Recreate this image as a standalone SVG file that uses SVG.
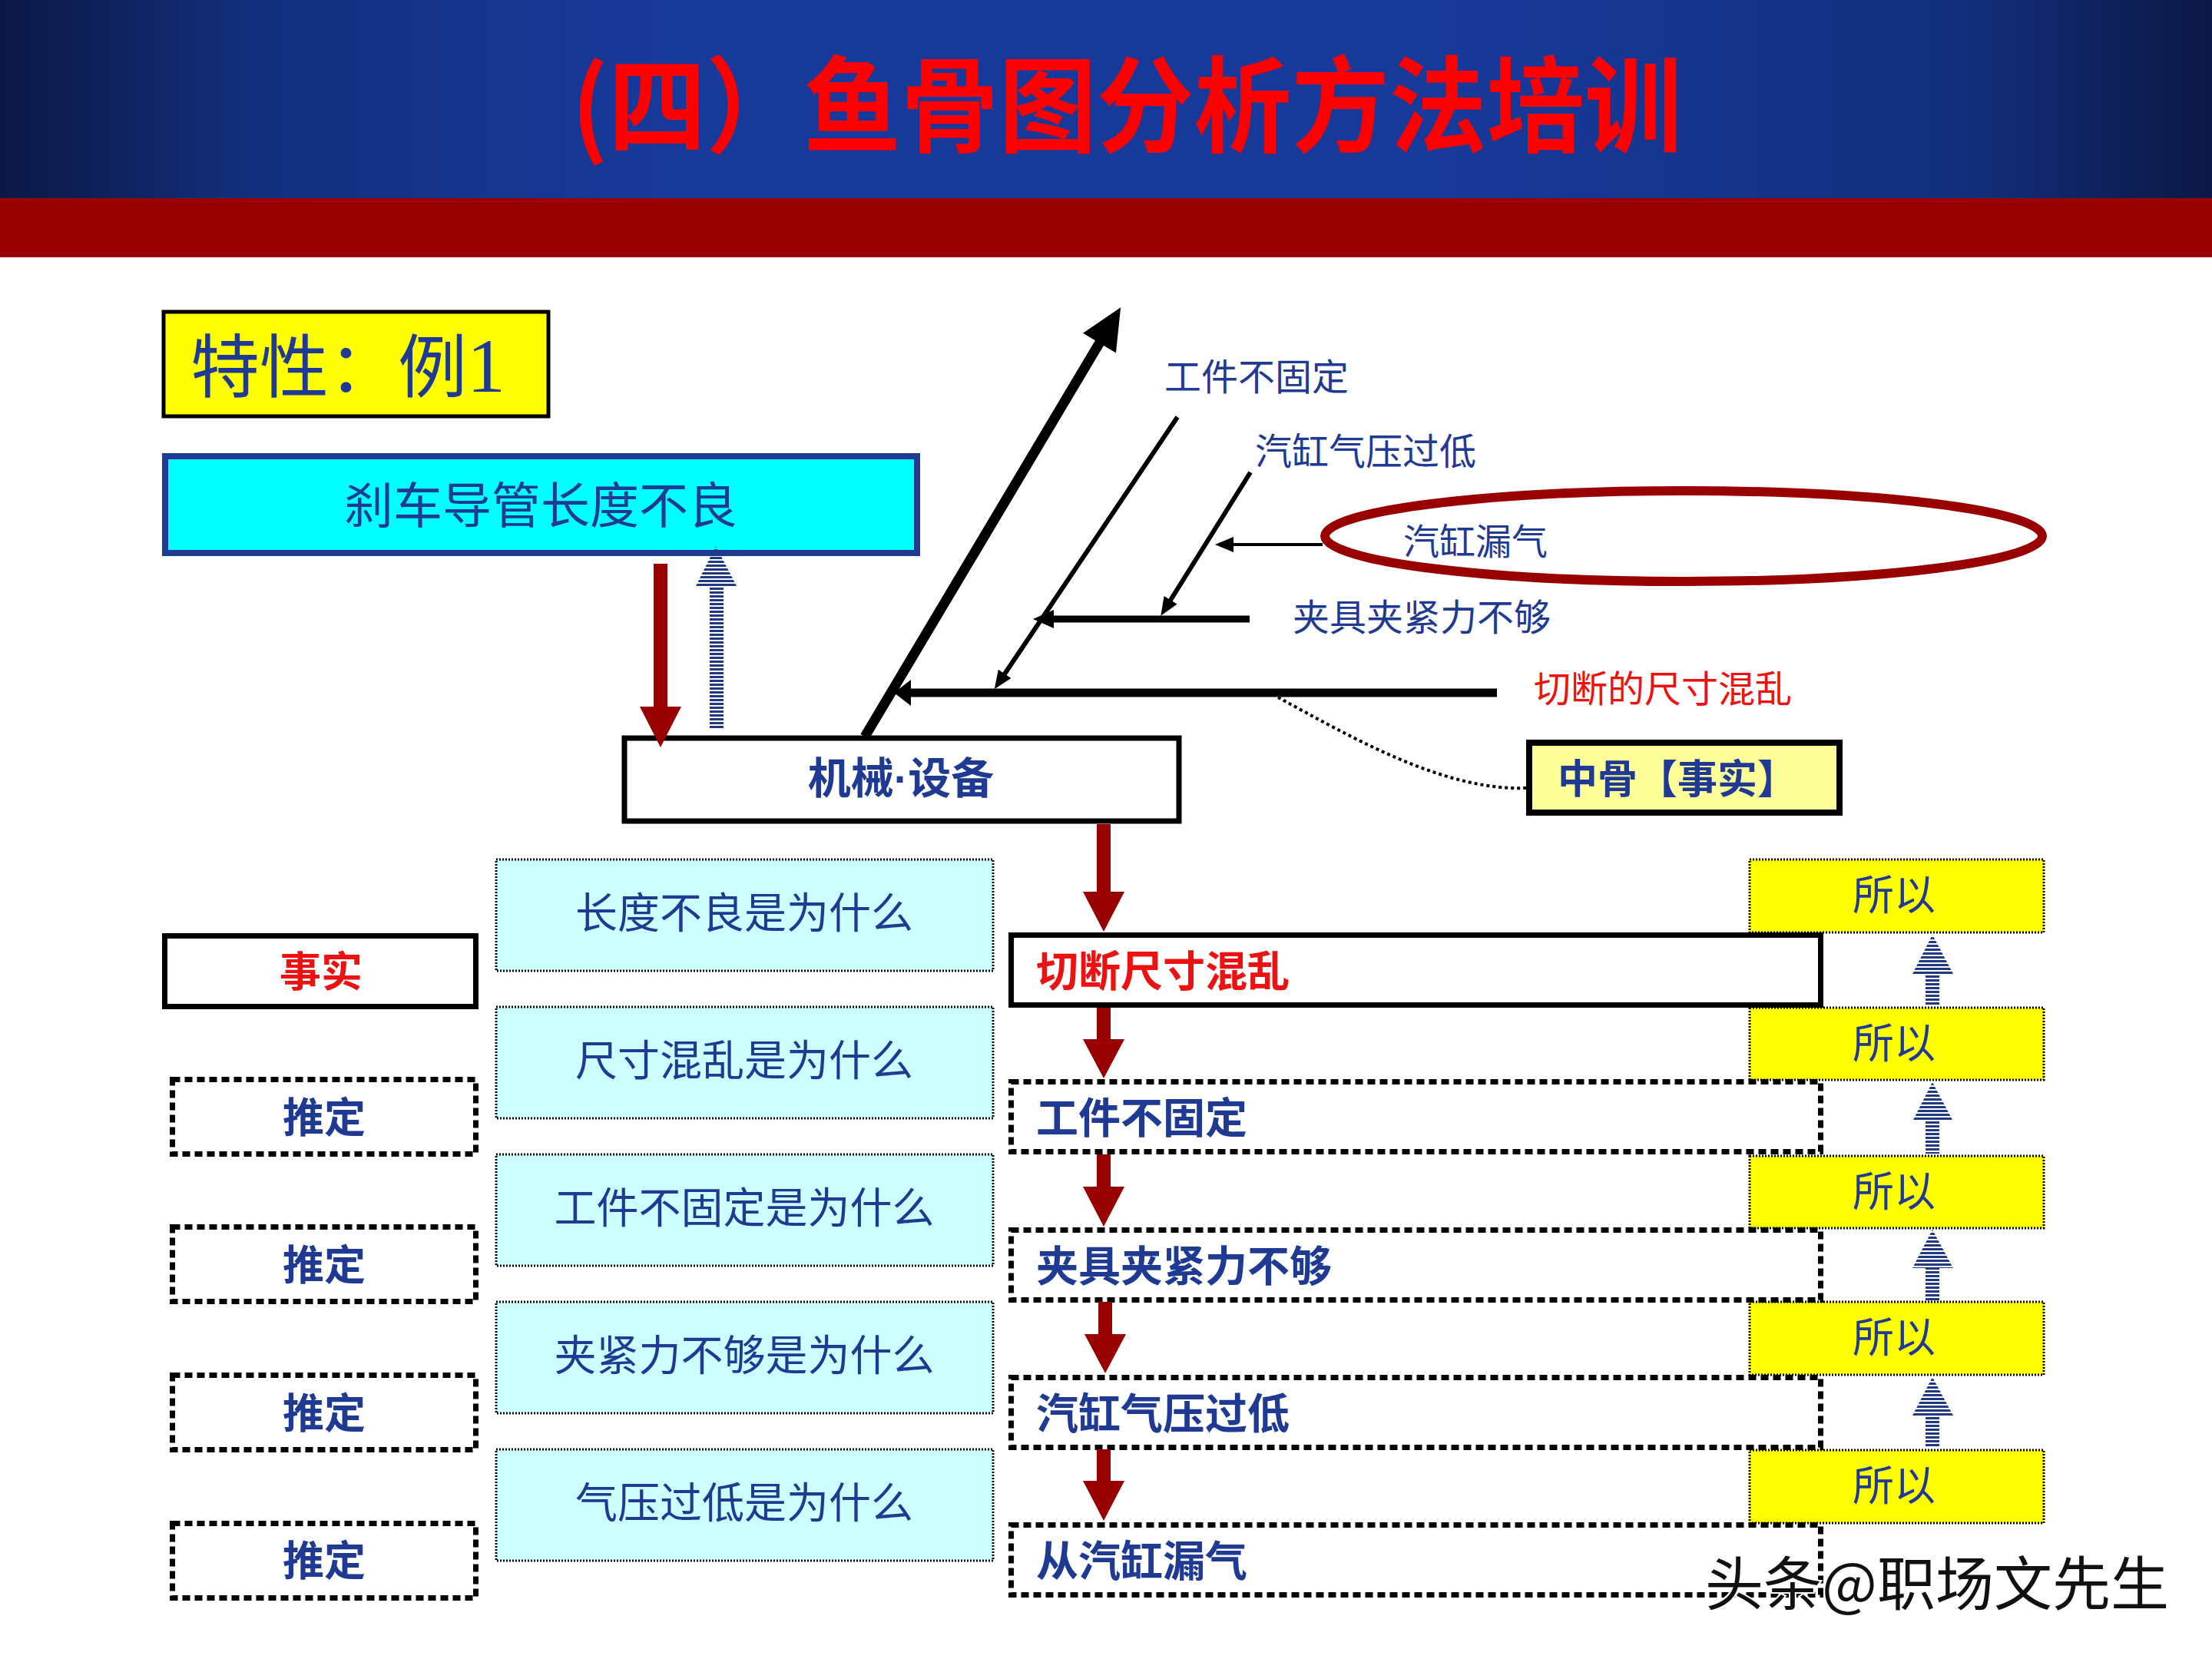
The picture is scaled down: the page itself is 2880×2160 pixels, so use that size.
<svg xmlns="http://www.w3.org/2000/svg" width="2880" height="2160" viewBox="0 0 2880 2160">
<defs>
<linearGradient id="hdr" x1="0" y1="0" x2="1" y2="0">
<stop offset="0" stop-color="#0b1845"/>
<stop offset="0.12" stop-color="#13307f"/>
<stop offset="0.3" stop-color="#17399a"/>
<stop offset="0.65" stop-color="#17399a"/>
<stop offset="0.88" stop-color="#13307f"/>
<stop offset="1" stop-color="#0b1845"/>
</linearGradient>
<pattern id="stripe" patternUnits="userSpaceOnUse" width="8" height="5"><rect width="8" height="3" fill="#1f3a80"/></pattern>
<marker id="hL" markerUnits="userSpaceOnUse" orient="auto" markerWidth="60" markerHeight="60" refX="0" refY="0" style="overflow:visible"><path d="M-3,-25 L51,0 L-3,25 Z" fill="#000"/></marker>
<marker id="hM" markerUnits="userSpaceOnUse" orient="auto" markerWidth="30" markerHeight="40" refX="0" refY="0" style="overflow:visible"><path d="M-2,-17 L20,0 L-2,17 Z" fill="#000"/></marker>
<marker id="hJ" markerUnits="userSpaceOnUse" orient="auto" markerWidth="30" markerHeight="30" refX="0" refY="0" style="overflow:visible"><path d="M-2,-12 L25,0 L-2,12 Z" fill="#000"/></marker>
<marker id="hS" markerUnits="userSpaceOnUse" orient="auto" markerWidth="30" markerHeight="30" refX="0" refY="0" style="overflow:visible"><path d="M-2,-10 L22,0 L-2,10 Z" fill="#000"/></marker>
<style>
text{font-family:"Noto Sans CJK SC","Noto Sans",sans-serif}
.blue{fill:#1f3a93}
.red{fill:#ee1111}
.bold{font-weight:700}
.lbl{font-size:48px;fill:#1f3a93}
.solid{fill:#fff;stroke:#000;stroke-width:7}
.dash{fill:#fff;stroke:#000;stroke-width:7;stroke-dasharray:10 6}
.why{fill:#ccffff;stroke:#000;stroke-width:3;stroke-dasharray:2 2}
.so{fill:#ffff00;stroke:#000;stroke-width:3;stroke-dasharray:2 2}
.bone{fill:none;stroke:#000}
.rarrow{fill:#990000}
.barrow{fill:url(#stripe)}
.big{font-size:55px}
</style>
</defs>

<g id="header">
<rect x="0" y="0" width="2880" height="258" fill="url(#hdr)"/>
<rect x="0" y="258" width="2880" height="77" fill="#990000"/>
<text x="744" y="188" font-size="136" font-weight="700" fill="#ff0000" textLength="1446" lengthAdjust="spacingAndGlyphs">(四）鱼骨图分析方法培训</text>
</g>

<g id="title-box">
<rect x="213" y="406" width="501" height="136" fill="#ffff00" stroke="#000" stroke-width="5"/>
<text x="248" y="510" font-size="90" class="blue">特性：例<tspan font-family="Liberation Serif" font-size="100">1</tspan></text>
</g>

<g id="problem">
<rect x="215" y="594" width="979" height="126" fill="#00ffff" stroke="#1f3a93" stroke-width="8"/>
<text x="704" y="681" font-size="64" text-anchor="middle" class="blue">刹车导管长度不良</text>
</g>

<g id="machine">
<rect x="813" y="961" width="722" height="108" class="solid" stroke-width="8"/>
<text x="1173" y="1033" font-size="56" text-anchor="middle" class="blue bold">机械<tspan font-family="Liberation Sans">·</tspan>设备</text>
</g>

<g id="fish-labels">
<text x="1516" y="508" class="lbl">工件不固定</text>
<text x="1634" y="605" class="lbl">汽缸气压过低</text>
<text x="1683" y="821" class="lbl">夹具夹紧力不够</text>
<text x="1997" y="914" class="lbl" style="fill:#ee1111">切断的尺寸混乱</text>
</g>

<g id="leak">
<ellipse cx="2192" cy="698" rx="467" ry="59" fill="none" stroke="#990000" stroke-width="12"/>
<text x="1827" y="722" font-size="47" class="blue">汽缸漏气</text>
</g>

<g id="midbone">
<rect x="1991" y="967" width="404" height="91" fill="#ffff99" stroke="#000" stroke-width="8"/>
<text x="2028" y="1033" font-size="52" class="blue bold">中骨【事实】</text>
</g>

<g id="fact"><rect x="214.5" y="1218.5" width="405" height="92" class="solid"/><text x="418" y="1285" text-anchor="middle" font-size="54" class="red bold">事实</text></g>
<g id="guess1"><rect x="224.5" y="1405.5" width="395" height="97" class="dash"/><text x="422" y="1475" text-anchor="middle" font-size="54" class="blue bold">推定</text></g>
<g id="guess2"><rect x="224.5" y="1597.5" width="395" height="97" class="dash"/><text x="422" y="1667" text-anchor="middle" font-size="54" class="blue bold">推定</text></g>
<g id="guess3"><rect x="224.5" y="1790.5" width="395" height="97" class="dash"/><text x="422" y="1860" text-anchor="middle" font-size="54" class="blue bold">推定</text></g>
<g id="guess4"><rect x="224.5" y="1983.5" width="395" height="97" class="dash"/><text x="422" y="2052" text-anchor="middle" font-size="54" class="blue bold">推定</text></g>

<g id="why1"><rect x="646" y="1119" width="647" height="145" class="why"/><text x="969" y="1208" text-anchor="middle" class="blue big">长度不良是为什么</text></g>
<g id="why2"><rect x="646" y="1311" width="647" height="145" class="why"/><text x="969" y="1400" text-anchor="middle" class="blue big">尺寸混乱是为什么</text></g>
<g id="why3"><rect x="646" y="1503" width="647" height="145" class="why"/><text x="969" y="1592" text-anchor="middle" class="blue big">工件不固定是为什么</text></g>
<g id="why4"><rect x="646" y="1695" width="647" height="145" class="why"/><text x="969" y="1784" text-anchor="middle" class="blue big">夹紧力不够是为什么</text></g>
<g id="why5"><rect x="646" y="1887" width="647" height="145" class="why"/><text x="969" y="1976" text-anchor="middle" class="blue big">气压过低是为什么</text></g>

<g id="so1"><rect x="2278" y="1119" width="383" height="95" class="so"/><text x="2466" y="1185" text-anchor="middle" font-size="54" class="blue">所以</text></g>
<g id="so2"><rect x="2278" y="1312" width="383" height="94" class="so"/><text x="2466" y="1378" text-anchor="middle" font-size="54" class="blue">所以</text></g>
<g id="so3"><rect x="2278" y="1505" width="383" height="94" class="so"/><text x="2466" y="1571" text-anchor="middle" font-size="54" class="blue">所以</text></g>
<g id="so4"><rect x="2278" y="1695" width="383" height="95" class="so"/><text x="2466" y="1761" text-anchor="middle" font-size="54" class="blue">所以</text></g>
<g id="so5"><rect x="2278" y="1888" width="383" height="95" class="so"/><text x="2466" y="1954" text-anchor="middle" font-size="54" class="blue">所以</text></g>

<g id="r1"><rect x="1316.5" y="1217.5" width="1054" height="91" class="solid"/><text x="1349" y="1284" class="red bold big">切断尺寸混乱</text></g>
<g id="r2"><rect x="1316.5" y="1408.5" width="1054" height="91" class="dash"/><text x="1349" y="1475" class="blue bold big">工件不固定</text></g>
<g id="r3"><rect x="1316.5" y="1601.5" width="1054" height="91" class="dash"/><text x="1349" y="1668" class="blue bold big">夹具夹紧力不够</text></g>
<g id="r4"><rect x="1316.5" y="1793.5" width="1054" height="91" class="dash"/><text x="1349" y="1860" class="blue bold big">汽缸气压过低</text></g>
<g id="r5"><rect x="1316.5" y="1985.5" width="1054" height="91" class="dash"/><text x="1349" y="2052" class="blue bold big">从汽缸漏气</text></g>

<g id="connectors">
<line x1="1126" y1="959" x2="1433" y2="444" class="bone" stroke-width="13" marker-end="url(#hL)"/>
<line x1="1949" y1="902" x2="1184" y2="902" class="bone" stroke-width="11" marker-end="url(#hM)"/>
<line x1="1533" y1="543" x2="1307" y2="879" class="bone" stroke-width="6" marker-end="url(#hS)"/>
<line x1="1627" y1="806" x2="1370" y2="806" class="bone" stroke-width="9" marker-end="url(#hJ)"/>
<line x1="1628" y1="615" x2="1523" y2="783" class="bone" stroke-width="6" marker-end="url(#hS)"/>
<line x1="1722" y1="709" x2="1604" y2="709" class="bone" stroke-width="4" marker-end="url(#hS)"/>
<path d="M1664,908 C1760,960 1880,1030 1987,1026" fill="none" stroke="#000" stroke-width="4" stroke-dasharray="4 4"/>
<path d="M851,734 H869 V920 H887 L860,973 L833,920 H851 Z" class="rarrow"/>
<path d="M924,950 V763 H906 L932,711 L959,763 H942 V950 Z" class="barrow"/>
<path d="M1428,1073 H1446 V1161 H1464 L1437,1213 L1410,1161 H1428 Z" class="rarrow"/>
<path d="M1428,1312 H1446 V1353 H1464 L1437,1404 L1410,1353 H1428 Z" class="rarrow"/>
<path d="M1428,1503 H1446 V1545 H1464 L1437,1597 L1410,1545 H1428 Z" class="rarrow"/>
<path d="M1430,1695 H1448 V1737 H1466 L1439,1788 L1412,1737 H1430 Z" class="rarrow"/>
<path d="M1428,1887 H1446 V1928 H1464 L1437,1980 L1410,1928 H1428 Z" class="rarrow"/>
<path d="M2507,1310 V1268 H2490 L2516,1217 L2543,1268 H2525 V1310 Z" class="barrow"/>
<path d="M2507,1502 V1460 H2490 L2516,1409 L2543,1460 H2525 V1502 Z" class="barrow"/>
<path d="M2507,1693 V1651 H2490 L2516,1601 L2543,1651 H2525 V1693 Z" class="barrow"/>
<path d="M2507,1885 V1843 H2490 L2516,1793 L2543,1843 H2525 V1885 Z" class="barrow"/>
</g>

<g id="watermark">
<text x="2220" y="2090" font-size="76" fill="#111" stroke="#fff" stroke-width="4" paint-order="stroke">头条@职场文先生</text>
</g>
</svg>
